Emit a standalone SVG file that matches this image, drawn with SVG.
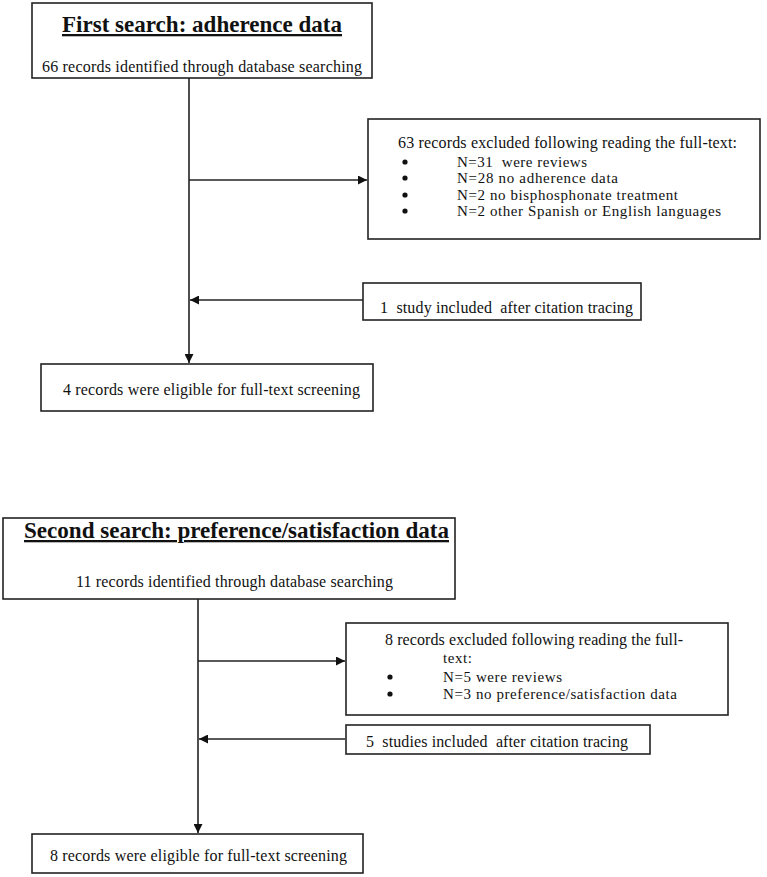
<svg xmlns="http://www.w3.org/2000/svg" width="767" height="877" viewBox="0 0 767 877">
<style>
  .box{fill:#fff;stroke:#222;stroke-width:1.6}
  .t{font-family:'Liberation Serif','DejaVu Serif',serif;font-size:16px;fill:#111;white-space:pre}
  .s{font-family:'Liberation Serif','DejaVu Serif',serif;font-size:15px;fill:#111;white-space:pre}
  .h{font-family:'Liberation Serif','DejaVu Serif',serif;font-size:23px;font-weight:bold;fill:#111;text-decoration:underline}
  .c{fill:none;stroke:#222;stroke-width:1.6}
  .b{fill:#111}
</style>
<defs>
  <marker id="ah" viewBox="0 0 10 10" refX="10" refY="5" markerWidth="10" markerHeight="9" markerUnits="userSpaceOnUse" orient="auto">
    <path d="M0,0 L10,5 L0,10 Z" fill="#111"/>
  </marker>
</defs>
<rect width="767" height="877" fill="#fff"/>
<g id="connectors">
  <line class="c" x1="189" y1="78" x2="189" y2="363" marker-end="url(#ah)"/>
  <line class="c" x1="189" y1="180" x2="367" y2="180" marker-end="url(#ah)"/>
  <line class="c" x1="363" y1="300" x2="190" y2="300" marker-end="url(#ah)"/>
  <line class="c" x1="198" y1="599" x2="198" y2="833" marker-end="url(#ah)"/>
  <line class="c" x1="198" y1="661" x2="345" y2="661" marker-end="url(#ah)"/>
  <line class="c" x1="345" y1="739" x2="199" y2="739" marker-end="url(#ah)"/>
</g>
<g id="first-search" font-family="Liberation Serif, serif">
  <rect class="box" x="32" y="3" width="340" height="75"/>
  <text class="h" x="62" y="32" textLength="280" lengthAdjust="spacingAndGlyphs">First search: adherence data</text>
  <text class="t" x="42" y="72" textLength="320">66 records identified through database searching</text>
</g>
<g id="excluded-1">
  <rect class="box" x="368" y="119" width="392" height="120"/>
  <text class="t" x="398" y="148" textLength="339">63 records excluded following reading the full-text:</text>
  <circle class="b" cx="405" cy="162" r="2.6"/><text class="s" x="457" y="167" textLength="130">N=31  were reviews</text>
  <circle class="b" cx="405" cy="178" r="2.6"/><text class="s" x="457" y="183" textLength="161">N=28 no adherence data</text>
  <circle class="b" cx="405" cy="195" r="2.6"/><text class="s" x="457" y="200" textLength="221">N=2 no bisphosphonate treatment</text>
  <circle class="b" cx="405" cy="211" r="2.6"/><text class="s" x="457" y="216" textLength="264">N=2 other Spanish or English languages</text>
</g>
<g id="included-1">
  <rect class="box" x="363" y="283" width="278" height="37"/>
  <text class="t" x="380" y="313" textLength="253">1  study included  after citation tracing</text>
</g>
<g id="eligible-1">
  <rect class="box" x="41" y="364" width="332" height="47"/>
  <text class="t" x="63" y="395" textLength="297">4 records were eligible for full-text screening</text>
</g>
<g id="second-search">
  <rect class="box" x="3" y="518" width="452" height="81"/>
  <text class="h" x="24" y="538" textLength="425" lengthAdjust="spacingAndGlyphs">Second search: preference/satisfaction data</text>
  <text class="t" x="76" y="587" textLength="317">11 records identified through database searching</text>
</g>
<g id="excluded-2">
  <rect class="box" x="346" y="623" width="382" height="92"/>
  <text class="t" x="385" y="645" textLength="298">8 records excluded following reading the full-</text>
  <text class="s" x="443" y="663" textLength="29">text:</text>
  <circle class="b" cx="390" cy="677" r="2.6"/><text class="s" x="443" y="682" textLength="119">N=5 were reviews</text>
  <circle class="b" cx="390" cy="694" r="2.6"/><text class="s" x="443" y="699" textLength="234">N=3 no preference/satisfaction data</text>
</g>
<g id="included-2">
  <rect class="box" x="346" y="725" width="304" height="29"/>
  <text class="t" x="366" y="747" textLength="262">5  studies included  after citation tracing</text>
</g>
<g id="eligible-2">
  <rect class="box" x="32" y="834" width="331" height="39"/>
  <text class="t" x="50" y="861" textLength="297">8 records were eligible for full-text screening</text>
</g>
</svg>
